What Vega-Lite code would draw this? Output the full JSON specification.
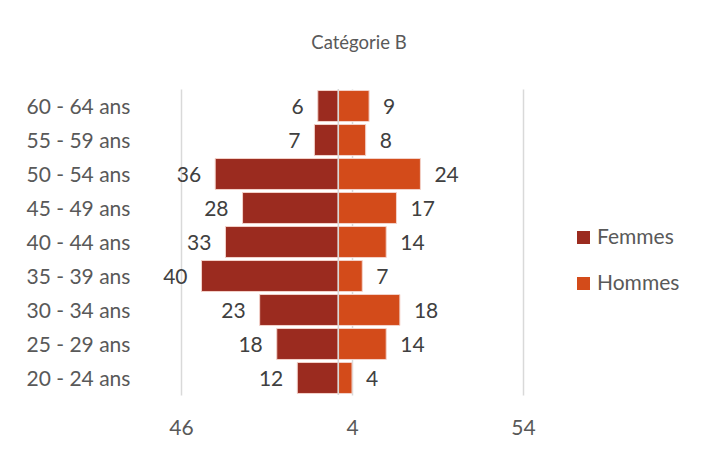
{
  "$schema": "https://vega.github.io/schema/vega-lite/v6.json",
  "width": 342,
  "height": 306,
  "autosize": {"type": "none"},
  "padding": {"left": 181, "top": 89, "right": 183, "bottom": 57},
  "background": "white",
  "config": {"view": {"stroke": null}},
  "title": {
    "text": "Catégorie B",
    "font": "Lato",
    "fontSize": 18.5,
    "fontWeight": "normal",
    "color": "#595959",
    "anchor": "middle",
    "frame": "group",
    "dx": 7,
    "offset": 36
  },
  "data": {
    "values": [
      {"age": "60 - 64 ans", "sexe": "Femmes", "n": 6},
      {"age": "55 - 59 ans", "sexe": "Femmes", "n": 7},
      {"age": "50 - 54 ans", "sexe": "Femmes", "n": 36},
      {"age": "45 - 49 ans", "sexe": "Femmes", "n": 28},
      {"age": "40 - 44 ans", "sexe": "Femmes", "n": 33},
      {"age": "35 - 39 ans", "sexe": "Femmes", "n": 40},
      {"age": "30 - 34 ans", "sexe": "Femmes", "n": 23},
      {"age": "25 - 29 ans", "sexe": "Femmes", "n": 18},
      {"age": "20 - 24 ans", "sexe": "Femmes", "n": 12},
      {"age": "60 - 64 ans", "sexe": "Hommes", "n": 9},
      {"age": "55 - 59 ans", "sexe": "Hommes", "n": 8},
      {"age": "50 - 54 ans", "sexe": "Hommes", "n": 24},
      {"age": "45 - 49 ans", "sexe": "Hommes", "n": 17},
      {"age": "40 - 44 ans", "sexe": "Hommes", "n": 14},
      {"age": "35 - 39 ans", "sexe": "Hommes", "n": 7},
      {"age": "30 - 34 ans", "sexe": "Hommes", "n": 18},
      {"age": "25 - 29 ans", "sexe": "Hommes", "n": 14},
      {"age": "20 - 24 ans", "sexe": "Hommes", "n": 4}
    ]
  },
  "transform": [
    {"calculate": "datum.sexe === 'Femmes' ? -datum.n : datum.n", "as": "x"}
  ],
  "layer": [
    {
      "mark": {"type": "bar", "stroke": "#f3d2ca", "strokeWidth": 1},
      "encoding": {
        "y": {
          "field": "age", "type": "nominal",
          "sort": ["60 - 64 ans", "55 - 59 ans", "50 - 54 ans", "45 - 49 ans", "40 - 44 ans", "35 - 39 ans", "30 - 34 ans", "25 - 29 ans", "20 - 24 ans"],
          "scale": {"paddingInner": 0.09, "paddingOuter": 0.045},
          "axis": {
            "title": null, "domain": false, "ticks": false, "grid": false,
            "labelAlign": "left", "labelPadding": 155, "labelOffset": 1.5,
            "labelFont": "Lato", "labelFontSize": 21, "labelColor": "#595959"
          }
        },
        "x": {
          "field": "x", "type": "quantitative",
          "scale": {"domain": [-46, 54], "nice": false, "zero": false},
          "axis": {
            "title": null, "values": [-46, 4, 54], "labelExpr": "abs(datum.value)",
            "labelFlush": false, "labelOverlap": false,
            "grid": true, "gridColor": "#d9d9d9", "gridWidth": 1.5,
            "domain": false, "ticks": false, "labelPadding": 22,
            "labelFont": "Lato", "labelFontSize": 21, "labelColor": "#595959"
          }
        },
        "color": {
          "field": "sexe", "type": "nominal",
          "scale": {"domain": ["Femmes", "Hommes"], "range": ["#9B2B1F", "#D34B1A"]},
          "legend": {
            "orient": "none", "legendX": 392, "legendY": 138, "title": null,
            "symbolType": "square", "symbolSize": 169, "symbolStrokeWidth": 0,
            "labelFont": "Lato", "labelFontSize": 21, "labelColor": "#595959",
            "rowPadding": 24, "labelOffset": 3
          }
        }
      }
    },
    {
      "data": {"values": [{"v": 0}]},
      "mark": {"type": "rule", "color": "#d9d9d9", "strokeWidth": 1.5},
      "encoding": {"x": {"field": "v", "type": "quantitative"}}
    },
    {
      "transform": [{"filter": "datum.sexe === 'Femmes'"}],
      "mark": {"type": "text", "align": "right", "baseline": "middle", "dx": -14, "dy": 2, "font": "Lato", "fontSize": 21, "color": "#404040"},
      "encoding": {
        "y": {"field": "age", "type": "nominal", "sort": ["60 - 64 ans", "55 - 59 ans", "50 - 54 ans", "45 - 49 ans", "40 - 44 ans", "35 - 39 ans", "30 - 34 ans", "25 - 29 ans", "20 - 24 ans"]},
        "x": {"field": "x", "type": "quantitative"},
        "text": {"field": "n", "type": "quantitative"}
      }
    },
    {
      "transform": [{"filter": "datum.sexe === 'Hommes'"}],
      "mark": {"type": "text", "align": "left", "baseline": "middle", "dx": 14, "dy": 2, "font": "Lato", "fontSize": 21, "color": "#404040"},
      "encoding": {
        "y": {"field": "age", "type": "nominal", "sort": ["60 - 64 ans", "55 - 59 ans", "50 - 54 ans", "45 - 49 ans", "40 - 44 ans", "35 - 39 ans", "30 - 34 ans", "25 - 29 ans", "20 - 24 ans"]},
        "x": {"field": "x", "type": "quantitative"},
        "text": {"field": "n", "type": "quantitative"}
      }
    }
  ]
}
